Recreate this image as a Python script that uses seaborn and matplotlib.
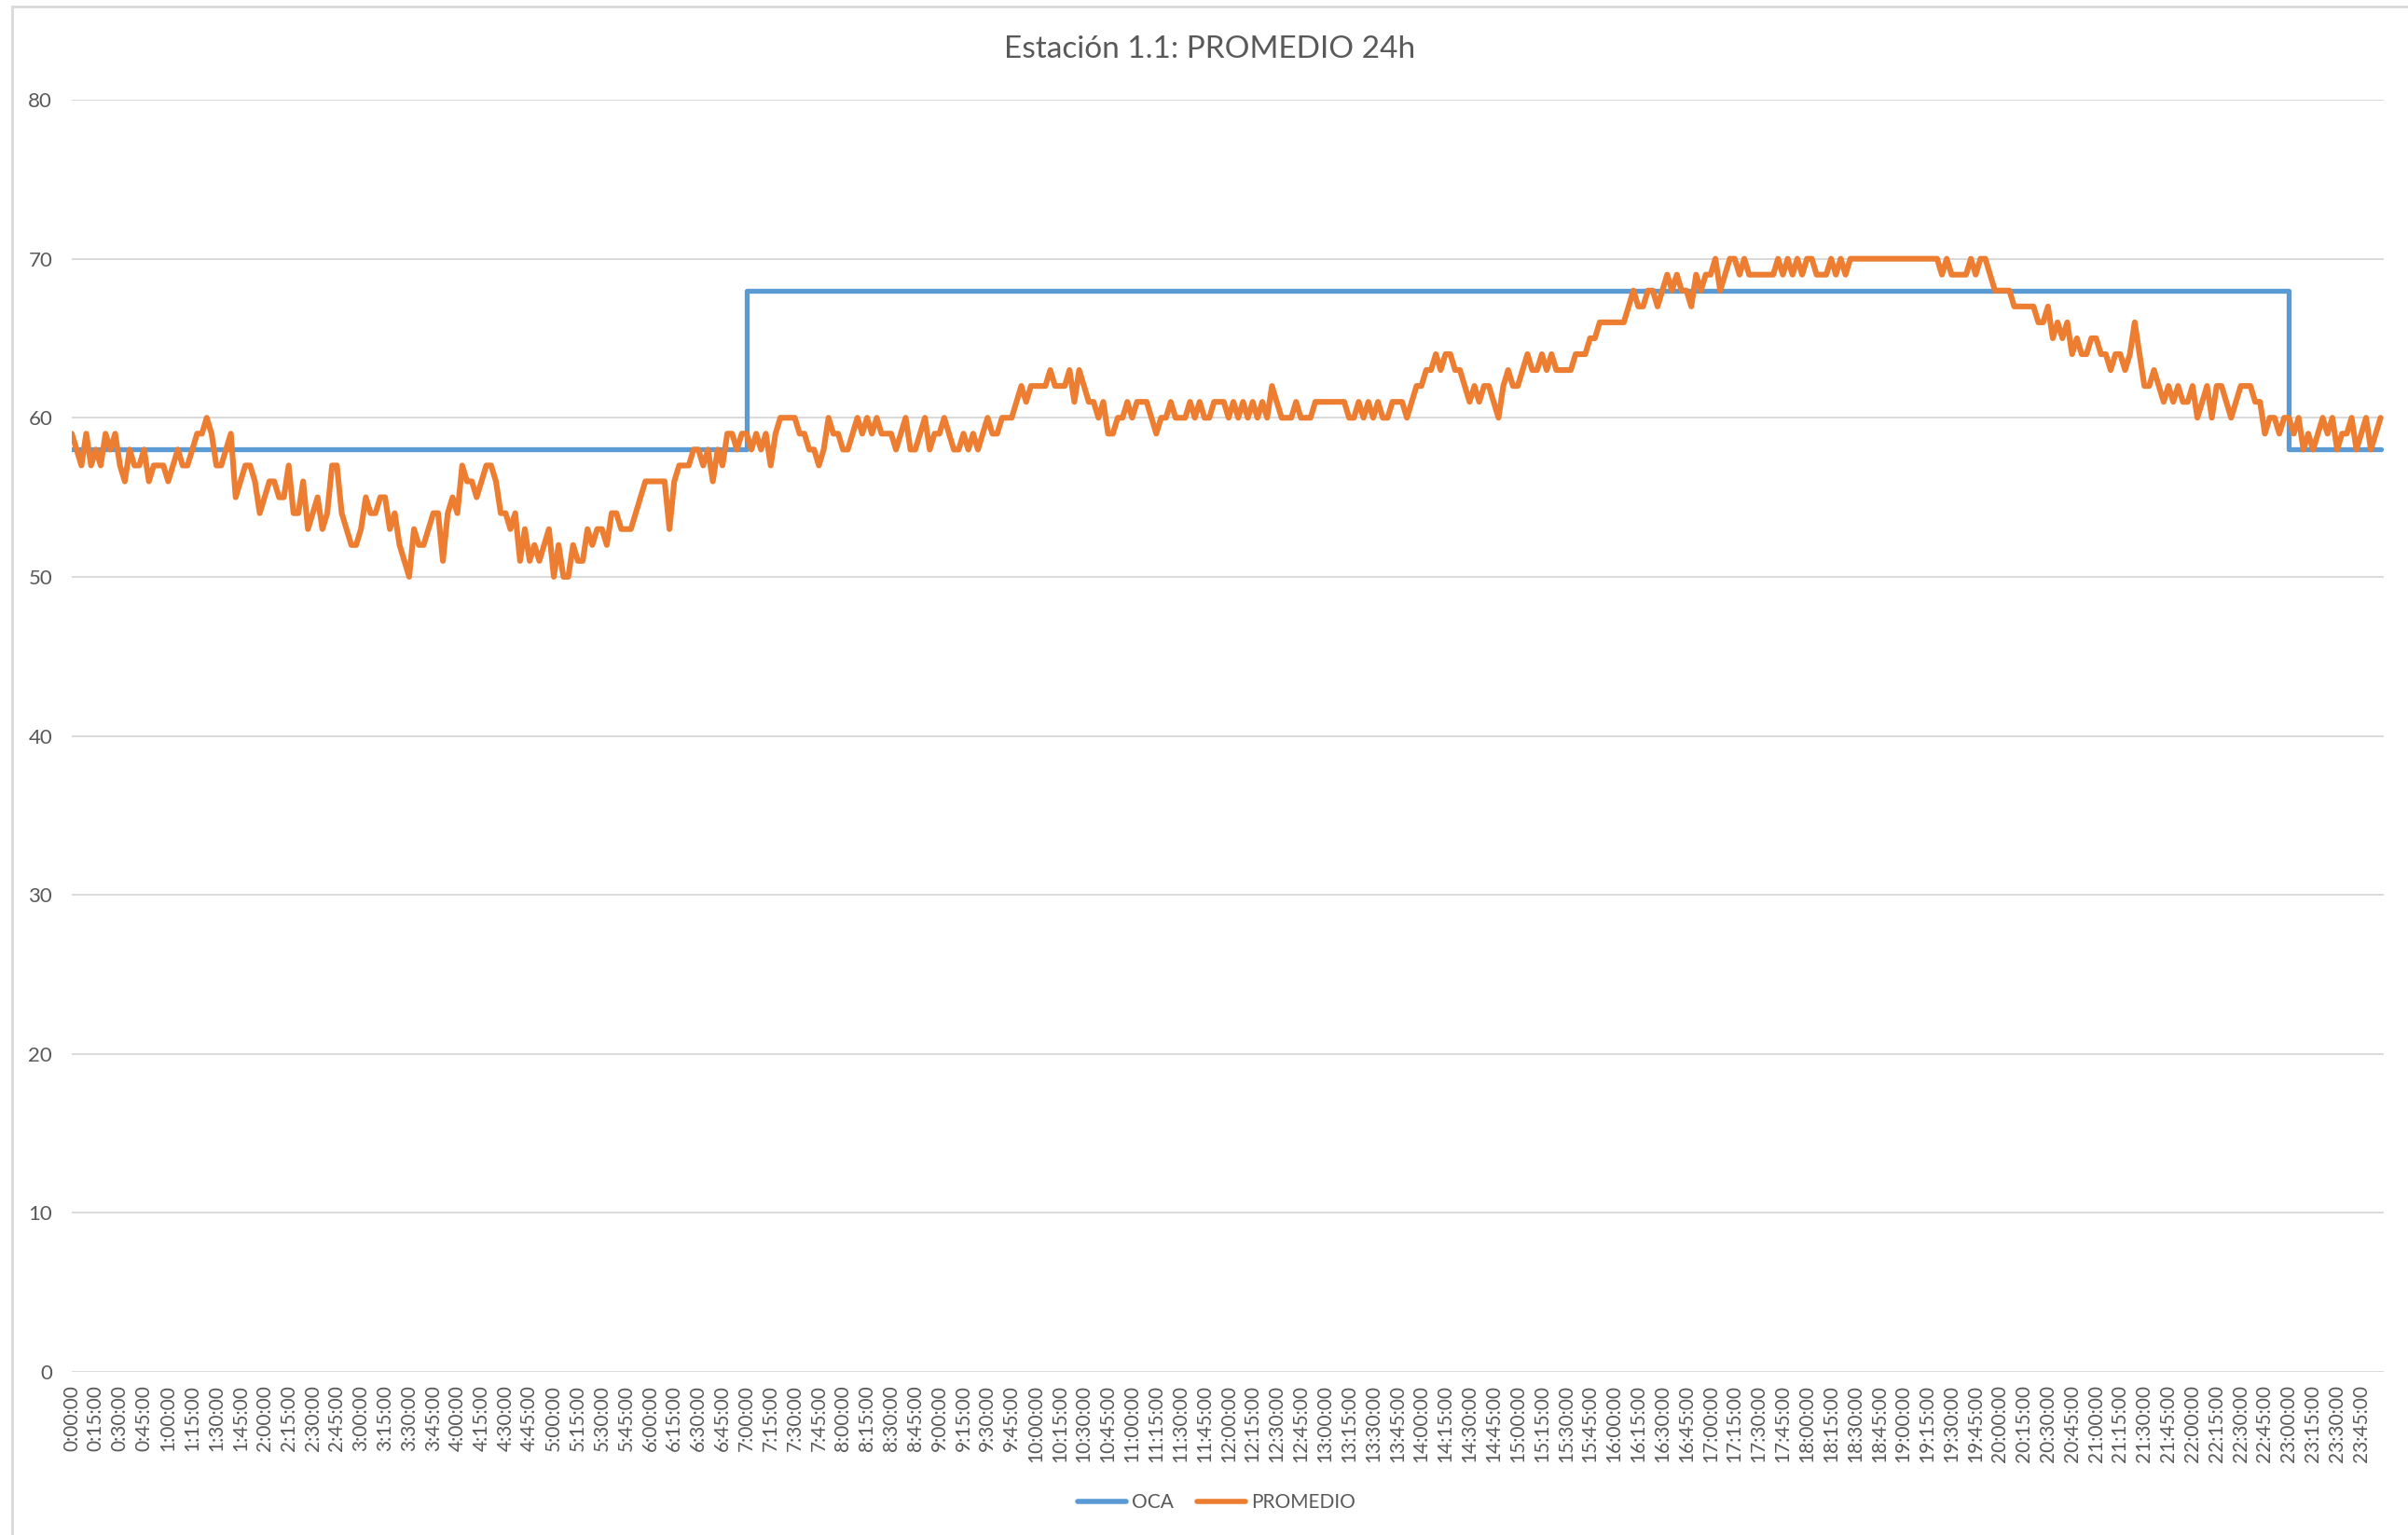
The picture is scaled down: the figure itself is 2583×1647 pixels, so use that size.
import numpy as np
import pandas as pd
import seaborn as sns
import matplotlib.pyplot as plt
from matplotlib.lines import Line2D

# Valores PROMEDIO, una muestra cada 3 minutos (20 por hora)
prom_00 = [59, 58, 57, 59, 57, 58, 57, 59, 58, 59, 57, 56, 58, 57, 57, 58, 56, 57, 57, 57]
prom_01 = [56, 57, 58, 57, 57, 58, 59, 59, 60, 59, 57, 57, 58, 59, 55, 56, 57, 57, 56, 54]
prom_02 = [55, 56, 56, 55, 55, 57, 54, 54, 56, 53, 54, 55, 53, 54, 57, 57, 54, 53, 52, 52]
prom_03 = [53, 55, 54, 54, 55, 55, 53, 54, 52, 51, 50, 53, 52, 52, 53, 54, 54, 51, 54, 55]
prom_04 = [54, 57, 56, 56, 55, 56, 57, 57, 56, 54, 54, 53, 54, 51, 53, 51, 52, 51, 52, 53]
prom_05 = [50, 52, 50, 50, 52, 51, 51, 53, 52, 53, 53, 52, 54, 54, 53, 53, 53, 54, 55, 56]
prom_06 = [56, 56, 56, 56, 53, 56, 57, 57, 57, 58, 58, 57, 58, 56, 58, 57, 59, 59, 58, 59]
prom_07 = [59, 58, 59, 58, 59, 57, 59, 60, 60, 60, 60, 59, 59, 58, 58, 57, 58, 60, 59, 59]
prom_08 = [58, 58, 59, 60, 59, 60, 59, 60, 59, 59, 59, 58, 59, 60, 58, 58, 59, 60, 58, 59]
prom_09 = [59, 60, 59, 58, 58, 59, 58, 59, 58, 59, 60, 59, 59, 60, 60, 60, 61, 62, 61, 62]
prom_10 = [62, 62, 62, 63, 62, 62, 62, 63, 61, 63, 62, 61, 61, 60, 61, 59, 59, 60, 60, 61]
prom_11 = [60, 61, 61, 61, 60, 59, 60, 60, 61, 60, 60, 60, 61, 60, 61, 60, 60, 61, 61, 61]
prom_12 = [60, 61, 60, 61, 60, 61, 60, 61, 60, 62, 61, 60, 60, 60, 61, 60, 60, 60, 61, 61]
prom_13 = [61, 61, 61, 61, 61, 60, 60, 61, 60, 61, 60, 61, 60, 60, 61, 61, 61, 60, 61, 62]
prom_14 = [62, 63, 63, 64, 63, 64, 64, 63, 63, 62, 61, 62, 61, 62, 62, 61, 60, 62, 63, 62]
prom_15 = [62, 63, 64, 63, 63, 64, 63, 64, 63, 63, 63, 63, 64, 64, 64, 65, 65, 66, 66, 66]
prom_16 = [66, 66, 66, 67, 68, 67, 67, 68, 68, 67, 68, 69, 68, 69, 68, 68, 67, 69, 68, 69]
prom_17 = [69, 70, 68, 69, 70, 70, 69, 70, 69, 69, 69, 69, 69, 69, 70, 69, 70, 69, 70, 69]
prom_18 = [70, 70, 69, 69, 69, 70, 69, 70, 69, 70, 70, 70, 70, 70, 70, 70, 70, 70, 70, 70]
prom_19 = [70, 70, 70, 70, 70, 70, 70, 70, 69, 70, 69, 69, 69, 69, 70, 69, 70, 70, 69, 68]
prom_20 = [68, 68, 68, 67, 67, 67, 67, 67, 66, 66, 67, 65, 66, 65, 66, 64, 65, 64, 64, 65]
prom_21 = [65, 64, 64, 63, 64, 64, 63, 64, 66, 64, 62, 62, 63, 62, 61, 62, 61, 62, 61, 61]
prom_22 = [62, 60, 61, 62, 60, 62, 62, 61, 60, 61, 62, 62, 62, 61, 61, 59, 60, 60, 59, 60]
prom_23 = [60, 59, 60, 58, 59, 58, 59, 60, 59, 60, 58, 59, 59, 60, 58, 59, 60, 58, 59, 60]

# OCA por hora (0h ... 23h)
oca_por_hora = [58, 58, 58, 58, 58, 58, 58, 68, 68, 68, 68, 68,
                68, 68, 68, 68, 68, 68, 68, 68, 68, 68, 68, 58]

promedio = np.concatenate([prom_00, prom_01, prom_02, prom_03, prom_04, prom_05,
                           prom_06, prom_07, prom_08, prom_09, prom_10, prom_11,
                           prom_12, prom_13, prom_14, prom_15, prom_16, prom_17,
                           prom_18, prom_19, prom_20, prom_21, prom_22, prom_23])
minutos = np.arange(0, 1440, 3)
oca = np.repeat(oca_por_hora, 20)

df = pd.DataFrame({'minuto': minutos, 'OCA': oca, 'PROMEDIO': promedio})

etiquetas = [f"{m // 60}:{m % 60:02d}:00" for m in range(0, 1440, 15)]

AZUL = '#5B9BD5'
NARANJA = '#ED7D31'
GRIS = '#595959'
GRID = '#D9D9D9'

sns.set_theme(style="white")
plt.rcParams['font.family'] = ['Lato', 'DejaVu Sans']

W, H = 2583, 1647
fig = plt.figure(figsize=(W / 100, H / 100), dpi=100)
ax = fig.add_axes([77 / W, 1 - 1472 / H, 2480 / W, (1472 - 107) / H])

sns.lineplot(data=df, x='minuto', y='OCA', ax=ax, color=AZUL, linewidth=3.8,
             drawstyle='steps-post', label='OCA')
sns.lineplot(data=df, x='minuto', y='PROMEDIO', ax=ax, color=NARANJA, linewidth=4.4,
             label='PROMEDIO')

ax.set_xlim(0, 1439)
ax.set_ylim(0, 80)
ax.set_xticks(np.arange(0, 1440, 15))
ax.set_xticklabels(etiquetas, rotation=90)
ax.set_yticks(range(0, 81, 10))
ax.tick_params(axis='x', length=0, pad=10, labelsize=15, labelcolor=GRIS)
ax.tick_params(axis='y', length=0, pad=15, labelsize=16, labelcolor=GRIS)
ax.set_xlabel('')
ax.set_ylabel('')
ax.yaxis.grid(True, color=GRID, linewidth=1.4)
ax.xaxis.grid(False)
ax.set_axisbelow(True)
for s in ax.spines.values():
    s.set_visible(False)

ax.get_legend().remove()
handles = [Line2D([], [], color=AZUL, linewidth=4, solid_capstyle='round'),
           Line2D([], [], color=NARANJA, linewidth=4, solid_capstyle='round')]
fig.legend(handles, ['OCA', 'PROMEDIO'], loc='center', bbox_to_anchor=(1305 / W, 1 - 1612 / H),
           ncol=2, frameon=False, fontsize=15, handlelength=2.5, handletextpad=0.3,
           columnspacing=1.2, labelcolor=GRIS)

fig.text(1298 / W, 1 - 53 / H, 'Estación 1.1: PROMEDIO 24h', ha='center', va='center',
         fontsize=24, color=GRIS)

# borde del área del gráfico
fig.add_artist(Line2D([13 / W, 13 / W], [0, 1 - 7 / H], color=GRID, linewidth=2))
fig.add_artist(Line2D([13 / W, 1], [1 - 7 / H, 1 - 7 / H], color=GRID, linewidth=2))

fig.savefig('out.png', dpi=100)
